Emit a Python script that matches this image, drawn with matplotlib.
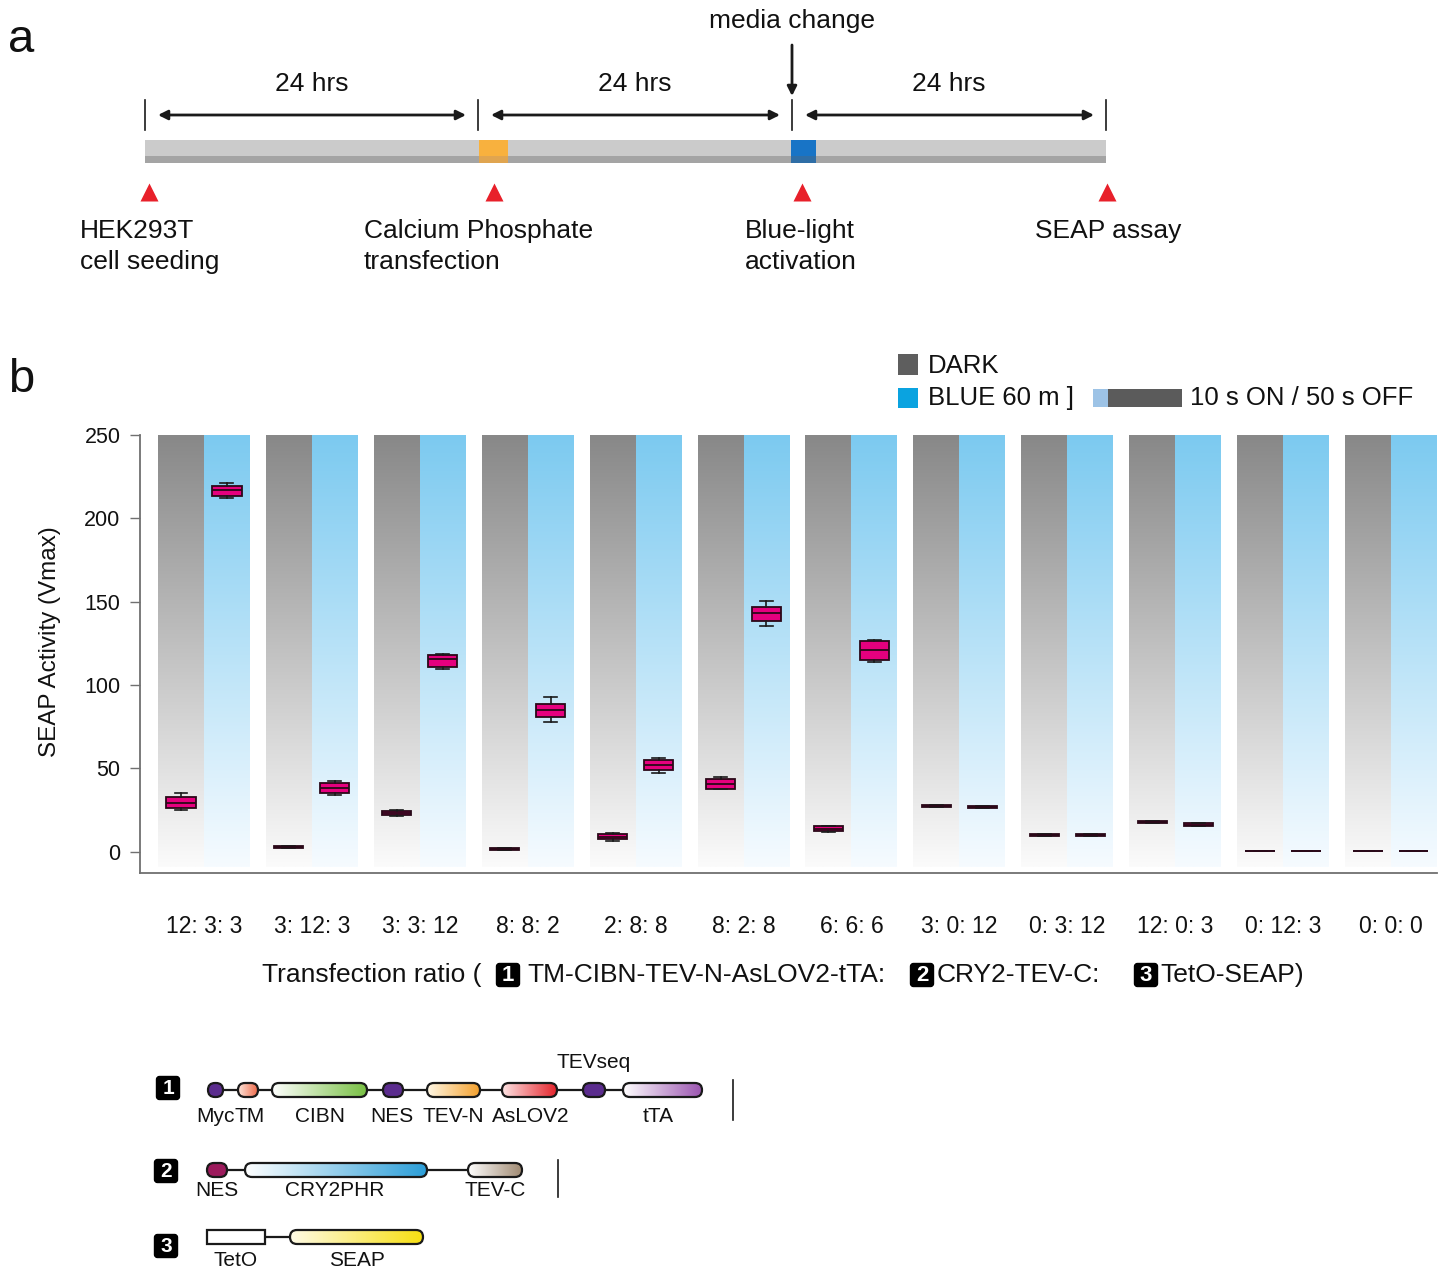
import numpy as np
import matplotlib
matplotlib.use('Agg')
import matplotlib.pyplot as plt
from matplotlib.patches import FancyBboxPatch, Rectangle
from matplotlib.colors import to_rgb

plt.rcParams['font.family'] = ['Liberation Sans', 'DejaVu Sans']

# ---- data -------------------------------------------------------------
ratios = ['12: 3: 3', '3: 12: 3', '3: 3: 12', '8: 8: 2', '2: 8: 8', '8: 2: 8',
          '6: 6: 6', '3: 0: 12', '0: 3: 12', '12: 0: 3', '0: 12: 3', '0: 0: 0']

# SEAP activity (Vmax): whisker low, Q1, median, Q3, whisker high
dark_lo = [25.0, 2.4, 21.2, 1.2, 6.6, 37.4, 11.8, 27.0, 9.2, 17.2, 0.6, 0.3]
dark_q1 = [26.0, 2.4, 21.8, 1.2, 7.4, 37.6, 12.2, 27.0, 9.2, 17.2, 0.6, 0.3]
dark_med = [29.0, 2.9, 23.2, 1.7, 9.0, 40.4, 13.6, 27.6, 9.8, 17.8, 0.6, 0.3]
dark_q3 = [32.6, 3.4, 24.6, 2.2, 10.6, 43.8, 15.2, 28.2, 10.4, 18.4, 0.6, 0.3]
dark_hi = [35.0, 3.4, 25.2, 2.2, 11.0, 44.8, 15.6, 28.2, 10.4, 18.4, 0.6, 0.3]

blue_lo = [212.0, 34.0, 109.4, 77.8, 47.0, 135.6, 113.8, 26.4, 9.6, 15.6, 0.6, 0.3]
blue_q1 = [213.6, 35.4, 110.8, 81.0, 49.0, 138.6, 115.0, 26.4, 9.6, 15.6, 0.6, 0.3]
blue_med = [216.8, 38.2, 115.4, 85.0, 52.0, 143.0, 121.0, 27.0, 10.2, 16.3, 0.6, 0.3]
blue_q3 = [219.6, 41.0, 118.0, 88.8, 55.0, 146.8, 126.2, 27.6, 10.8, 17.0, 0.6, 0.3]
blue_hi = [221.0, 42.4, 118.4, 93.0, 56.2, 150.2, 127.0, 27.6, 10.8, 17.0, 0.6, 0.3]

steps = ['HEK293T\ncell seeding', 'Calcium Phosphate\ntransfection',
         'Blue-light\nactivation', 'SEAP assay']
intervals = ['24 hrs', '24 hrs', '24 hrs']

c1_names = ['Myc', 'TM', 'CIBN', 'NES', 'TEV-N', 'AsLOV2', 'TEVseq', 'tTA']
c2_names = ['NES', 'CRY2PHR', 'TEV-C']
c3_names = ['TetO', 'SEAP']

# ---- figure -----------------------------------------------------------
W, H = 1453, 1270
fig = plt.figure(figsize=(W / 100, H / 100), dpi=100)
ov = fig.add_axes([0, 0, 1, 1], zorder=0)
ov.axis('off')

TXT = '#111111'
LINE = '#1a1a1a'

# panel letters
ov.text(8, 40, 'a', fontsize=34, ha='left', va='center', color=TXT)
ov.text(8, 380, 'b', fontsize=34, ha='left', va='center', color=TXT)

# ---- panel a: timeline ------------------------------------------------
tl_x = [145, 478, 792, 1106]
bar_top, bar_mid, bar_bot = 140, 156, 163
ov.add_patch(Rectangle((tl_x[0], bar_top), tl_x[-1] - tl_x[0], bar_mid - bar_top,
                       fc='#cbcbcb', ec='none', zorder=1))
ov.add_patch(Rectangle((tl_x[0], bar_mid), tl_x[-1] - tl_x[0], bar_bot - bar_mid,
                       fc='#a4a4a4', ec='none', zorder=1))
# transfection and light blocks
for x0, w, c_up, c_lo in [(479, 29, '#f8b13e', '#e0a550'), (791, 25, '#1874c6', '#2f6ea6')]:
    ov.add_patch(Rectangle((x0, bar_top), w, bar_mid - bar_top, fc=c_up, ec='none', zorder=2))
    ov.add_patch(Rectangle((x0, bar_mid), w, bar_bot - bar_mid, fc=c_lo, ec='none', zorder=2))

for x in tl_x:
    ov.plot([x, x], [100, 130], color=LINE, lw=1.2, zorder=2)
for i, lab in enumerate(intervals):
    a0, a1 = tl_x[i] + 13, tl_x[i + 1] - 12
    ov.annotate('', xy=(a1, 115), xytext=(a0, 115),
                arrowprops=dict(arrowstyle='<|-|>', color=LINE, lw=2,
                                mutation_scale=14, shrinkA=0, shrinkB=0))
    ov.text((tl_x[i] + tl_x[i + 1]) / 2, 84, lab, fontsize=19, ha='center',
            va='center', color=TXT)

ov.text(792, 21, 'media change', fontsize=19, ha='center', va='center', color=TXT)
ov.annotate('', xy=(792, 96), xytext=(792, 45),
            arrowprops=dict(arrowstyle='-|>', color=LINE, lw=2, mutation_scale=14,
                            shrinkA=0, shrinkB=0))

tri_x = [149, 494, 802, 1107]
ov.plot(tri_x, [192] * 4, ls='none', marker='^', ms=13, color='#e8202a', mec='none')
step_x = [80, 364, 745, 1035]
for x, lab in zip(step_x, steps):
    ov.text(x, 219, lab, fontsize=19, ha='left', va='top', color=TXT,
            linespacing=1.35)

# ---- panel b: legend --------------------------------------------------
ov.add_patch(Rectangle((898, 354), 20, 21, fc='#5e5e5e', ec='none'))
ov.add_patch(Rectangle((898, 388), 20, 20, fc='#0aa3e0', ec='none'))
ov.text(928, 366, 'DARK', fontsize=18.5, ha='left', va='center', color=TXT)
ov.text(928, 398, 'BLUE 60 m ]', fontsize=18.5, ha='left', va='center', color=TXT)
ov.add_patch(Rectangle((1093, 389), 15, 18, fc='#9dc3e6', ec='none'))
ov.add_patch(Rectangle((1108, 389), 74, 18, fc='#5b5b5b', ec='none'))
ov.text(1190, 398, '10 s ON / 50 s OFF', fontsize=18.5, ha='left', va='center', color=TXT)

# ---- panel b: box plot ------------------------------------------------
ax = fig.add_axes([140 / W, 1 - 873 / H, (1437 - 140) / W, (873 - 435) / H], zorder=2)
ax.patch.set_alpha(0)
n = len(ratios)
xs = np.arange(n)
bw = 0.426

def vgrad(top, bottom, N=256):
    t = np.linspace(0, 1, N)[:, None]
    return (1 - t) * np.array(to_rgb(top)) + t * np.array(to_rgb(bottom))

g_dark = vgrad('#888888', '#fbfbfb')[:, None, :]
g_blue = vgrad('#7ccaf0', '#f6fbff')[:, None, :]
for i in xs:
    ax.imshow(g_dark, extent=(i - bw, i, -9, 250), aspect='auto', zorder=1,
              interpolation='bilinear')
    ax.imshow(g_blue, extent=(i, i + bw, -9, 250), aspect='auto', zorder=1,
              interpolation='bilinear')

stats = []
pos = []
for i in range(n):
    stats.append(dict(whislo=dark_lo[i], q1=dark_q1[i], med=dark_med[i],
                      q3=dark_q3[i], whishi=dark_hi[i], fliers=[]))
    pos.append(i - bw / 2)
    stats.append(dict(whislo=blue_lo[i], q1=blue_q1[i], med=blue_med[i],
                      q3=blue_q3[i], whishi=blue_hi[i], fliers=[]))
    pos.append(i + bw / 2)

ax.bxp(stats, positions=pos, widths=0.27, capwidths=0.12, patch_artist=True,
       showfliers=False, manage_ticks=False,
       boxprops=dict(facecolor='#e5007e', edgecolor='#2a0818', linewidth=1.3),
       medianprops=dict(color='#2a0818', linewidth=1.3),
       whiskerprops=dict(color='#1a1a1a', linewidth=1.2),
       capprops=dict(color='#1a1a1a', linewidth=1.2), zorder=3)

ax.set_xlim(-0.593, 11.427)
ax.set_ylim(-12.78, 250)
for s in ['top', 'right']:
    ax.spines[s].set_visible(False)
for s in ['left', 'bottom']:
    ax.spines[s].set_color('#707070')
    ax.spines[s].set_linewidth(1.3)
ax.set_yticks([0, 50, 100, 150, 200, 250])
ax.tick_params(axis='y', length=7, width=1, color='#707070', pad=7,
               labelsize=15.5, labelcolor=TXT)
ax.set_xticks(xs)
ax.set_xticklabels(ratios)
ax.tick_params(axis='x', length=0, pad=30, labelsize=16.5, labelcolor=TXT)

ov.text(50, 642, 'SEAP Activity (Vmax)', fontsize=17.5, rotation=90,
        ha='center', va='center', color=TXT)

def badge(x, y, s, size, fs):
    ov.add_patch(FancyBboxPatch((x - size / 2, y - size / 2), size, size,
                                boxstyle='round,pad=0,rounding_size=3',
                                fc='black', ec='black', zorder=4))
    ov.text(x, y + 0.5, s, color='white', fontsize=fs, fontweight='bold',
            ha='center', va='center', zorder=5)

# x-axis title with numbered constructs
xl_y = 975
ov.text(262, xl_y, 'Transfection ratio (', fontsize=19, ha='left', va='center', color=TXT)
badge(508, xl_y, '1', 23, 16)
ov.text(527, xl_y, 'TM-CIBN-TEV-N-AsLOV2-tTA:', fontsize=19, ha='left', va='center', color=TXT)
badge(922, xl_y, '2', 23, 16)
ov.text(937, xl_y, 'CRY2-TEV-C:', fontsize=19, ha='left', va='center', color=TXT)
badge(1146, xl_y, '3', 23, 16)
ov.text(1160, xl_y, 'TetO-SEAP)', fontsize=19, ha='left', va='center', color=TXT)

# ---- constructs -------------------------------------------------------
def domain(x0, x1, yc, h, c0, c1=None, square=False):
    style = 'square,pad=0' if square else 'round,pad=0,rounding_size=%g' % (h / 2)
    fc = c0 if c1 is None else 'none'
    p = FancyBboxPatch((x0, yc - h / 2), x1 - x0, h, boxstyle=style,
                       fc=fc, ec=LINE, lw=1.6, zorder=3)
    ov.add_patch(p)
    if c1 is not None:
        t = np.linspace(0, 1, 256)[:, None]
        rgb = (1 - t) * np.array(to_rgb(c0)) + t * np.array(to_rgb(c1))
        im = ov.imshow(rgb[None, :, :], extent=(x0, x1, yc + h / 2, yc - h / 2),
                       aspect='auto', zorder=2.5, interpolation='bilinear')
        im.set_clip_path(p)

purple = '#5b2c8e'
dh = 14
fs_c = 15

# construct 1
y1 = 1090
badge(168, 1088, '1', 23, 15)
ov.plot([215, 700], [y1, y1], color=LINE, lw=1.6, zorder=1)
c1_span = [(208, 223), (238, 258), (272, 367), (383, 403), (427, 480),
           (502, 557), (583, 605), (623, 702)]
c1_fill = [(purple, None), ('#fde6dc', '#ef6a4a'), ('#ffffff', '#78c043'),
           (purple, None), ('#fff8e6', '#f3a02c'), ('#fde4e4', '#e5232b'),
           (purple, None), ('#ffffff', '#9b55b0')]
for (x0, x1), (c0, c1) in zip(c1_span, c1_fill):
    domain(x0, x1, y1, dh, c0, c1)
c1_lab = [(215, 1116), (250, 1116), (320, 1116), (392, 1116), (453, 1116),
          (531, 1116), (594, 1063), (658, 1116)]
for name, (x, y) in zip(c1_names, c1_lab):
    ov.text(x, y, name, fontsize=fs_c, ha='center', va='center', color=TXT)
ov.plot([733, 733], [1080, 1120], color=LINE, lw=1.2)

# construct 2
y2 = 1170
badge(166, 1171, '2', 23, 15)
ov.plot([217, 468], [y2, y2], color=LINE, lw=1.6, zorder=1)
c2_span = [(207, 227), (245, 427), (468, 522)]
c2_fill = [('#9c1a5c', None), ('#ffffff', '#2b9ed8'), ('#ffffff', '#a08a72')]
for (x0, x1), (c0, c1) in zip(c2_span, c2_fill):
    domain(x0, x1, y2, dh, c0, c1)
for name, x in zip(c2_names, [217, 335, 495]):
    ov.text(x, 1191, name, fontsize=fs_c, ha='center', va='center', color=TXT)
ov.plot([558, 558], [1160, 1197], color=LINE, lw=1.2)

# construct 3
y3 = 1237
badge(166, 1246, '3', 23, 15)
ov.plot([265, 290], [y3, y3], color=LINE, lw=1.6, zorder=1)
domain(207, 265, y3, dh, '#ffffff', None, square=True)
domain(290, 423, y3, dh, '#fffbe6', '#f7df12')
for name, x in zip(c3_names, [236, 357]):
    ov.text(x, 1261, name, fontsize=fs_c, ha='center', va='center', color=TXT)

ov.set_xlim(0, W)
ov.set_ylim(H, 0)
ov.set_aspect('auto')

fig.savefig('out.png', dpi=100)
